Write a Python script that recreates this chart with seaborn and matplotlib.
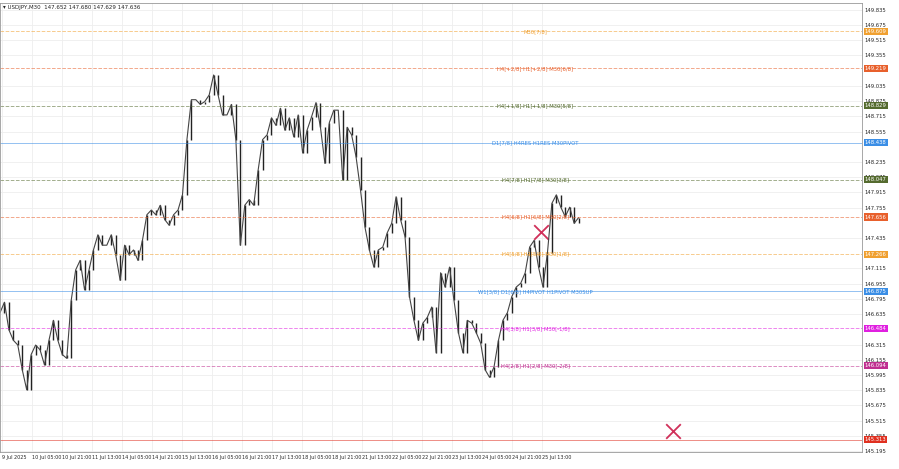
import matplotlib
matplotlib.use("Agg")
import matplotlib.pyplot as plt
import seaborn as sns
import pandas as pd
import numpy as np

closes = [146.65, 146.76, 146.47, 146.36, 146.31, 146.05, 145.84, 146.21, 146.31, 146.26,
          146.10, 146.36, 146.57, 146.36, 146.21, 146.17, 146.78, 147.10, 147.20, 146.89,
          147.10, 147.31, 147.47, 147.36, 147.36, 147.47, 147.26, 146.99, 147.36, 147.26,
          147.31, 147.20, 147.41, 147.68, 147.73, 147.68, 147.78, 147.63, 147.57, 147.68,
          147.73, 147.89, 148.47, 148.89, 148.89, 148.84, 148.87, 148.94, 149.15, 148.94,
          148.73, 148.73, 148.84, 148.47, 147.36, 147.78, 147.84, 147.78, 148.15, 148.47,
          148.52, 148.70, 148.62, 148.80, 148.57, 148.70, 148.50, 148.73, 148.33, 148.57,
          148.71, 148.86, 148.60, 148.22, 148.65, 148.78, 148.78, 148.05, 148.60, 148.52,
          148.29, 147.94, 147.55, 147.31, 147.13, 147.31, 147.34, 147.49, 147.59, 147.87,
          147.63, 147.45, 146.82, 146.57, 146.36, 146.54, 146.60, 146.71, 146.23, 147.07,
          146.92, 147.13, 146.78, 146.44, 146.23, 146.57, 146.54, 146.44, 146.33, 146.05,
          145.97, 146.08, 146.36, 146.57, 146.65, 146.82, 146.92, 146.96, 147.07, 147.34,
          147.41, 147.13, 146.92, 147.28, 147.80, 147.89, 147.76, 147.66, 147.76, 147.59,
          147.65]

level_prices = [149.609, 149.219, 148.829, 148.438, 148.047, 147.656, 147.266, 146.875, 146.484, 146.094, 145.313]
level_labels = ["M30[7/8]", "H4[+2/8] H1[+2/8] M30[6/8]", "H4[+1/8] H1[+1/8] M30[5/8]",
                "D1[7/8] H4RES H1RES M30PIVOT", "H4[7/8] H1[7/8] M30[3/8]", "H4[6/8] H1[6/8] M30[2/8]",
                "H4[5/8] H1[5/8] M30[1/8]", "W1[3/8] D1[6/8] H4PIVOT H1PIVOT M30SUP",
                "H4[3/8] H1[3/8] M30[-1/8]", "H4[2/8] H1[2/8] M30[-2/8]", ""]
level_colors = ["#f0a030", "#e8602c", "#556b2f", "#3a8ee6", "#556b2f", "#e8602c",
                "#f0a030", "#3a8ee6", "#e020e0", "#c03090", "#e03020"]
level_styles = ["--", "--", "--", "-", "--", "--", "--", "-", "--", "--", "-"]

date_labels = ["9 Jul 2025", "10 Jul 05:00", "10 Jul 21:00", "11 Jul 13:00", "14 Jul 05:00",
               "14 Jul 21:00", "15 Jul 13:00", "16 Jul 05:00", "16 Jul 21:00", "17 Jul 13:00",
               "18 Jul 05:00", "18 Jul 21:00", "21 Jul 13:00", "22 Jul 05:00", "22 Jul 21:00",
               "23 Jul 13:00", "24 Jul 05:00", "24 Jul 21:00", "25 Jul 13:00"]
y_ticks = [149.835, 149.675, 149.515, 149.355, 149.035, 148.875, 148.715, 148.555, 148.235,
           148.075, 147.915, 147.755, 147.435, 147.115, 146.955, 146.795, 146.635, 146.315,
           146.155, 145.995, 145.835, 145.675, 145.515, 145.355, 145.195]
marks_x = [121.5, 151.3]
marks_y = [147.50, 145.41]

sns.set_style("white")
plt.rcParams['font.family'] = ['DejaVu Sans']

fig = plt.figure(figsize=(8.99, 4.69), dpi=100)
ax = fig.add_axes([0.0, 0.036, 0.959, 0.958])

px = 4.45  # pixels per sample
n = len(closes)
df = pd.DataFrame({"i": np.arange(n), "close": closes})
opens = [closes[0]] + closes[:-1]
bottoms = np.minimum(opens, closes)
heights = np.abs(np.array(closes) - np.array(opens))
ax.vlines(df["i"], bottoms, bottoms + heights, color="#222222", lw=1.0)
sns.lineplot(data=df, x="i", y="close", ax=ax, color="#444444", lw=0.8)

xmax = 862 / px
ax.set_xlim(0, xmax)
ax.set_ylim(145.184, 149.909)

for p, lab, c, ls in zip(level_prices, level_labels, level_colors, level_styles):
    ax.axhline(p, color=c, ls=ls, lw=0.7, alpha=0.55)
    if lab:
        ax.text(535 / px, p, lab, color=c, fontsize=3.8, ha="center", va="center")
    ax.text(1.003, p, f"{p:.3f}", transform=ax.get_yaxis_transform(), color="white",
            fontsize=3.8, va="center", ha="left",
            bbox=dict(boxstyle="square,pad=0.2", fc=c, ec="none"))

sns.scatterplot(x=marks_x, y=marks_y, marker="x", s=110, color="#d0305a", linewidth=1.3, ax=ax)

ax.set_xticks([(2 + 30 * k) / px for k in range(len(date_labels))])
ax.set_xticklabels(date_labels, fontsize=3.5, ha="left")
ax.yaxis.tick_right()
ax.set_yticks(y_ticks)
ax.set_yticklabels([f"{v:.3f}" for v in y_ticks], fontsize=3.8)
ax.tick_params(length=0, pad=2)
ax.set_xlabel("")
ax.set_ylabel("")
ax.grid(True, color="#eeeeee", lw=0.6)
for s in ax.spines.values():
    s.set_color("#999999")
    s.set_linewidth(0.6)

ax.text(0.004, 0.995, "\u25be USDJPY,M30  147.652 147.680 147.629 147.636", transform=ax.transAxes,
        fontsize=4.0, va="top", ha="left", color="#222222")

fig.savefig("out.png", dpi=100)
